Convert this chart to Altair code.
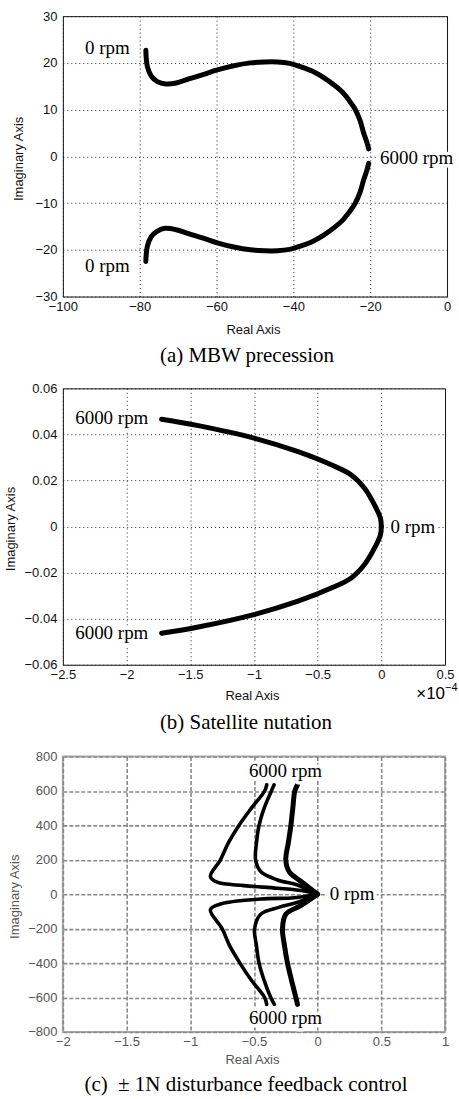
import altair as alt
import pandas as pd

# ---------------- Panel (a): MBW precession ----------------
a_upper_x = [-78.4, -78.3, -78.0, -77.0, -75.4, -73.2, -70.5, -67.5, -63.5, -59.8, -55.5, -51.2,
             -47.5, -44.2, -41.0, -38.2, -35.0, -32.0, -29.3, -27.2, -25.6, -24.0, -22.6, -21.7,
             -20.9, -20.4]
a_upper_y = [22.7, 21.0, 19.2, 17.2, 16.0, 15.5, 15.7, 16.5, 17.5, 18.5, 19.4, 20.0,
             20.2, 20.2, 19.9, 19.2, 18.2, 16.8, 15.2, 13.7, 12.1, 10.2, 7.6, 5.0,
             3.1, 1.6]
a_lower_x = [-78.4, -78.3, -78.0, -77.0, -75.4, -73.4, -70.5, -67.5, -63.5, -59.8, -55.5, -51.2,
             -47.5, -44.2, -41.0, -38.2, -35.0, -32.0, -29.3, -27.2, -25.6, -24.0, -22.6, -21.7,
             -20.9, -20.4]
a_lower_y = [-22.5, -21.0, -19.2, -17.2, -16.0, -15.4, -15.7, -16.5, -17.5, -18.5, -19.4, -20.0,
             -20.2, -20.2, -19.9, -19.2, -18.2, -16.8, -15.2, -13.7, -12.1, -10.2, -7.6, -5.0,
             -3.1, -1.5]
a_label_text = ["0 rpm", "0 rpm", "6000 rpm"]
a_label_x = [-88.4, -88.4, -7.9]
a_label_y = [23.1, -23.4, -0.4]
a_xticks = [-100, -80, -60, -40, -20, 0]
a_yticks = [-30, -20, -10, 0, 10, 20, 30]

# ---------------- Panel (b): Satellite nutation (x in units of 1e-4) ----------------
b_upper_x = [-1.725, -1.437, -0.993, -0.654, -0.393, -0.236, -0.132, -0.054, -0.007, 0.0]
b_upper_y = [0.0466, 0.0438, 0.0383, 0.0325, 0.0268, 0.0224, 0.0166, 0.0094, 0.0036, 0.0]
b_lower_x = [-1.725, -1.437, -0.993, -0.654, -0.393, -0.236, -0.132, -0.054, -0.007, 0.0]
b_lower_y = [-0.0463, -0.0436, -0.0381, -0.0324, -0.0267, -0.0223, -0.0165, -0.0094, -0.0036, 0.0]
b_label_text = ["6000 rpm", "6000 rpm", "0 rpm"]
b_label_x = [-2.116, -2.116, 0.247]
b_label_y = [0.0473, -0.0463, 0.0]
b_xticks = [-2.5, -2, -1.5, -1, -0.5, 0, 0.5]
b_yticks = [-0.06, -0.04, -0.02, 0, 0.02, 0.04, 0.06]

# ---------------- Panel (c): +-1N disturbance feedback control ----------------
c_outer_up_x = [-0.40, -0.416, -0.52, -0.618, -0.70, -0.763, -0.842, -0.789, -0.579, -0.316, -0.105, 0.0]
c_outer_up_y = [636, 600, 500, 400, 300, 200, 103, 70, 50, 35, 19, 0]
c_mid_up_x = [-0.342, -0.363, -0.42, -0.46, -0.48, -0.487, -0.447, -0.316, -0.158, 0.0]
c_mid_up_y = [636, 600, 500, 400, 300, 200, 132, 83, 54, 0]
c_in_up_x = [-0.158, -0.179, -0.195, -0.21, -0.23, -0.25, -0.224, -0.13, 0.0]
c_in_up_y = [636, 600, 500, 400, 300, 200, 132, 74, 0]
c_outer_lo_x = [-0.40, -0.416, -0.52, -0.61, -0.69, -0.75, -0.842, -0.763, -0.447, -0.184, 0.0]
c_outer_lo_y = [-640, -600, -500, -400, -300, -200, -90, -57, -28, -20, 0]
c_mid_lo_x = [-0.34, -0.368, -0.42, -0.46, -0.48, -0.495, -0.447, -0.30, -0.15, 0.0]
c_mid_lo_y = [-640, -600, -500, -400, -300, -200, -116, -75, -45, 0]
c_in_lo_x = [-0.158, -0.171, -0.205, -0.237, -0.26, -0.276, -0.25, -0.13, 0.0]
c_in_lo_y = [-640, -600, -500, -400, -300, -200, -116, -65, 0]
c_widths = {"outer": 3.6, "mid": 3.6, "inner": 5}
c_label_text = ["6000 rpm", "6000 rpm", "0 rpm"]
c_label_x = [-0.252, -0.252, 0.27]
c_label_y = [716, -718, 0]
c_xticks = [-2, -1.5, -1, -0.5, 0, 0.5, 1]
c_yticks = [-800, -600, -400, -200, 0, 200, 400, 600, 800]

SERIF = "Liberation Serif"
SANS = "Liberation Sans"
LABEL_EXPR = "format(datum.value, '~g')"


def branch_df(pairs):
    rows = []
    for name, xs, ys, w in pairs:
        for i, (xv, yv) in enumerate(zip(xs, ys)):
            rows.append({"x": xv, "y": yv, "branch": name, "i": i, "w": w})
    return pd.DataFrame(rows)


def panel(lines, labels, xdom, ydom, xticks, yticks, w, h, caption, st, extra=None):
    xs = alt.Scale(domain=xdom, nice=False, zero=False)
    ys = alt.Scale(domain=ydom, nice=False, zero=False)
    xaxis = alt.Axis(values=xticks, grid=True, gridColor=st["grid"], gridDash=st["dash"],
                     gridWidth=st["gw"], domain=False, ticks=False, labelFont=SANS,
                     labelFontSize=13, labelColor=st["lc"], labelPadding=4, labelFlush=False,
                     labelOverlap=False, labelExpr=LABEL_EXPR, title="Real Axis",
                     titleFont=SANS, titleFontSize=13, titleFontWeight="normal",
                     titleColor=st["lc"], titleBaseline="middle", titleY=st["xty"],
                     titleX=w / 2 - 2)
    yaxis = alt.Axis(values=yticks, grid=True, gridColor=st["grid"], gridDash=st["dash"],
                     gridWidth=st["gw"], domain=False, ticks=False, labelFont=SANS,
                     labelFontSize=13, labelColor=st["lc"], labelPadding=6, labelFlush=False,
                     labelOverlap=False, labelExpr=LABEL_EXPR, title="Imaginary Axis",
                     titleFont=SANS, titleFontSize=13, titleFontWeight="normal",
                     titleColor=st["lc"], titleBaseline="middle", titleX=st["ytx"],
                     titleY=h / 2 + 2, titleAngle=270)
    X = alt.X("x:Q", scale=xs, axis=xaxis)
    Y = alt.Y("y:Q", scale=ys, axis=yaxis)
    line = alt.Chart(lines).mark_line(color="black", strokeCap="round", strokeJoin="round",
                                      interpolate="catmull-rom").encode(
        x=X, y=Y, detail="branch:N", order="i:Q",
        strokeWidth=alt.StrokeWidth("w:Q", scale=None))
    halo = alt.Chart(labels).mark_text(font=SERIF, fontSize=19, fill="white", stroke="white",
                                       strokeWidth=7, strokeJoin="round").encode(
        x=X, y=Y, text="t:N")
    txt = alt.Chart(labels).mark_text(font=SERIF, fontSize=19, color="black").encode(
        x=X, y=Y, text="t:N")
    layers = [line, halo, txt]
    if extra is not None:
        layers += [l.encode(x=X, y=Y) for l in extra]
    return alt.layer(*layers).properties(
        width=w, height=h,
        view=alt.ViewBackground(stroke=st["frame"], strokeWidth=st["fw"]),
        title=alt.TitleParams(text=caption, orient="bottom", anchor="middle", frame="group",
                              font=SERIF, fontSize=21, fontWeight="normal", color="black",
                              offset=st["toff"], dx=-8, baseline="top"))


def lab_df(t, x, y):
    return pd.DataFrame({"t": t, "x": x, "y": y})


st_ab = {"grid": "#222222", "dash": [1, 3], "gw": 1, "lc": "#111111", "frame": "#111111",
         "fw": 1}

lines_a = branch_df([("up", a_upper_x, a_upper_y, 5), ("lo", a_lower_x, a_lower_y, 5)])
chart_a = panel(lines_a, lab_df(a_label_text, a_label_x, a_label_y), [-100, 0], [-30, 30],
                a_xticks, a_yticks, 385, 281, "(a) MBW precession",
                dict(st_ab, xty=33, ytx=-44, toff=9))

lines_b = branch_df([("up", b_upper_x, b_upper_y, 5), ("lo", b_lower_x, b_lower_y, 5)])
exp_df = pd.DataFrame({"x": [0.5], "y": [-0.06]})
exp1 = alt.Chart(exp_df).mark_text(text="×10", font=SANS, fontSize=17, align="right",
                                   baseline="middle", dy=29, color="black")
exp2 = alt.Chart(exp_df).mark_text(text="−4", font=SANS, fontSize=11, align="left",
                                   baseline="middle", dy=23, dx=0, color="black")
chart_b = panel(lines_b, lab_df(b_label_text, b_label_x, b_label_y), [-2.5, 0.5],
                [-0.06, 0.06], b_xticks, b_yticks, 383, 277, "(b) Satellite nutation",
                dict(st_ab, xty=31, ytx=-52, toff=9), extra=[exp1, exp2])

lines_c = branch_df([
    ("ou", c_outer_up_x, c_outer_up_y, c_widths["outer"]),
    ("mu", c_mid_up_x, c_mid_up_y, c_widths["mid"]),
    ("iu", c_in_up_x, c_in_up_y, c_widths["inner"]),
    ("ol", c_outer_lo_x, c_outer_lo_y, c_widths["outer"]),
    ("ml", c_mid_lo_x, c_mid_lo_y, c_widths["mid"]),
    ("il", c_in_lo_x, c_in_lo_y, c_widths["inner"]),
])
st_c = {"grid": "#8a8a8a", "dash": [4, 2], "gw": 1.6, "lc": "#555555", "frame": "#aaaaaa",
        "fw": 2, "xty": 28, "ytx": -48, "toff": 7}
chart_c = panel(lines_c, lab_df(c_label_text, c_label_x, c_label_y), [-2, 1], [-800, 800],
                c_xticks, c_yticks, 383, 276, "(c)\u00a0 ± 1N disturbance feedback control", st_c)

chart = alt.vconcat(chart_a, chart_b, chart_c, spacing=92, bounds="flush").properties(
    padding={"left": 4, "top": 8, "right": 0, "bottom": 2})

chart.save("out.html", embed_options={"renderer": "svg", "actions": False})
